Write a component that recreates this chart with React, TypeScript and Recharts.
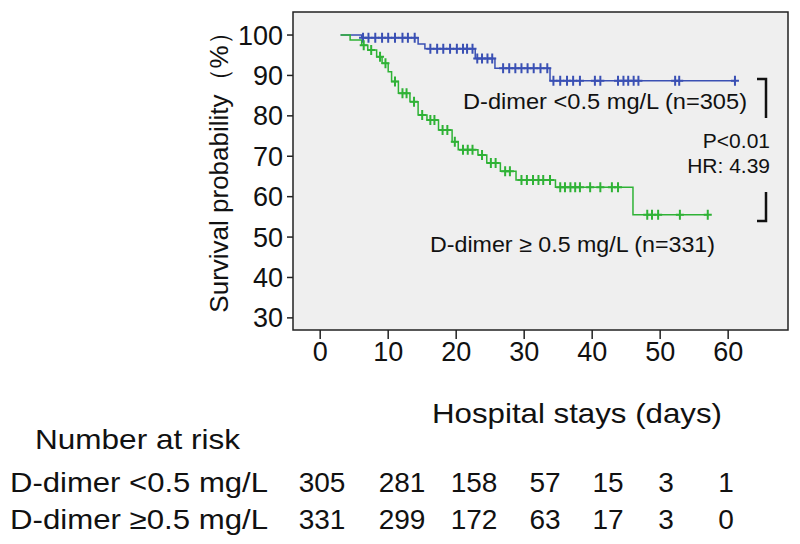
import React from 'react'
import { ComposedChart, Line, XAxis, YAxis, ReferenceArea } from 'recharts'

// D-dimer < 0.5 mg/L (blue): day, survival %, censored flag
const lowDays = [3, 6.1, 6.3, 7.1, 8.1, 9.1, 10, 11, 12.1, 12.9, 13.9, 14.4, 15.4, 16.2, 17.2, 18.1, 19.1, 20.1, 21, 21.6, 22.4, 22.8, 23.1, 23.8, 24.6, 25.3, 25.7, 26.9, 27.8, 28.7, 29.6, 30.5, 31.4, 32.4, 33.4, 33.8, 34.3, 35.3, 36.3, 37.2, 38.2, 40.4, 41.2, 43.8, 44.6, 45.3, 46.1, 46.8, 52.2, 52.8, 61]
const lowSurv = [100, 99.3, 99.3, 99.3, 99.3, 99.3, 99.3, 99.3, 99.3, 99.3, 99.3, 97.8, 96.6, 96.6, 96.6, 96.6, 96.6, 96.6, 96.6, 96.6, 96.6, 94.2, 94.2, 94.2, 94.2, 94.2, 91.8, 91.8, 91.8, 91.8, 91.8, 91.8, 91.8, 91.8, 91.8, 88.7, 88.7, 88.7, 88.7, 88.7, 88.7, 88.7, 88.7, 88.7, 88.7, 88.7, 88.7, 88.7, 88.7, 88.7, 88.7]
const lowCens = [0, 0, 1, 1, 1, 1, 1, 1, 1, 1, 1, 0, 0, 1, 1, 1, 1, 1, 1, 1, 1, 0, 1, 1, 1, 1, 0, 1, 1, 1, 1, 1, 1, 1, 1, 0, 1, 1, 1, 1, 1, 1, 1, 1, 1, 1, 1, 1, 1, 1, 1]

// D-dimer >= 0.5 mg/L (green)
const highDays = [3, 4.4, 6.1, 6.4, 7, 7.5, 8.3, 8.8, 9.1, 9.6, 10, 10.5, 11, 11.5, 12.1, 12.7, 13.2, 13.8, 14.4, 15, 15.7, 16.2, 16.8, 17.4, 18, 18.7, 19.4, 19.8, 20.3, 21, 21.7, 22.4, 23.2, 23.8, 24.5, 25.1, 25.8, 26.5, 27.2, 27.9, 28.8, 29.6, 30.4, 31.3, 32.1, 32.8, 33.8, 34.6, 35.3, 36, 36.8, 37.5, 38.2, 39.7, 41.2, 42.9, 43.8, 46, 48.1, 48.8, 49.7, 52.9, 57]
const highSurv = [100, 98.8, 97.5, 97.5, 96.3, 96.3, 94.6, 94.6, 93, 93, 90.9, 88.5, 88.5, 85.6, 85.6, 85.6, 83.5, 83.5, 80.2, 80.2, 79, 79, 79, 76.5, 76.5, 76.5, 73.6, 73.6, 71.6, 71.6, 71.6, 71.6, 70.3, 70.3, 68.3, 68.3, 68.3, 66.3, 66.3, 66.3, 64.1, 64.1, 64.1, 64.1, 64.1, 64.1, 64.1, 62.3, 62.3, 62.3, 62.3, 62.3, 62.3, 62.3, 62.3, 62.3, 62.3, 55.5, 55.5, 55.5, 55.5, 55.5, 55.5]
const highCens = [0, 0, 0, 1, 0, 1, 0, 1, 0, 1, 0, 0, 1, 0, 1, 1, 0, 1, 0, 1, 0, 1, 1, 0, 1, 1, 0, 1, 0, 1, 1, 1, 0, 1, 0, 1, 1, 0, 1, 1, 0, 1, 1, 1, 1, 1, 1, 0, 1, 1, 1, 1, 1, 1, 1, 1, 1, 0, 1, 1, 1, 1, 1]

const xTicks = [0, 10, 20, 30, 40, 50, 60]
const yTicks = [30, 40, 50, 60, 70, 80, 90, 100]

const riskLow = [305, 281, 158, 57, 15, 3, 1]
const riskHigh = [331, 299, 172, 63, 17, 3, 0]
const riskCols = [322, 402, 474, 545, 608, 666, 726]

const BLUE = '#3a50b4'
const GREEN = '#2fb236'

const toRows = (days: number[], surv: number[], cens: number[]) =>
  days.map((t, i) => ({ t, s: surv[i], c: cens[i] }))

const lowData = toRows(lowDays, lowSurv, lowCens)
const highData = toRows(highDays, highSurv, highCens)

function censorDot(color: string) {
  return (props: any) => {
    const { cx, cy, payload, index } = props
    if (!payload.c) return <g key={`d-${index}`} />
    return (
      <path
        key={`d-${index}`}
        d={`M${cx},${cy - 5}V${cy + 5}M${cx - 4},${cy}H${cx + 4}`}
        stroke={color}
        strokeWidth={2}
        fill="none"
      />
    )
  }
}

export default function App() {
  const txt = { fontFamily: '"Liberation Sans", Arial, sans-serif', fill: '#111' }
  return (
    <div style={{ position: 'absolute', left: 0, top: 0, width: 800, height: 544, background: '#fff', fontFamily: '"Liberation Sans", Arial, sans-serif' }}>
      <ComposedChart width={800} height={544} margin={{ top: 12, right: 12, left: 203, bottom: 174 }}>
        <ReferenceArea x1={-4} x2={68.8} y1={27} y2={105.7} fill="#efefef" fillOpacity={1} stroke="#222" strokeWidth={1.5} />
        <XAxis
          type="number"
          dataKey="t"
          domain={[-4, 68.8]}
          allowDataOverflow
          ticks={xTicks}
          height={40}
          axisLine={false}
          tickLine={{ stroke: '#222', strokeWidth: 1.5 }}
          tickSize={9}
          tickMargin={3}
          tick={{ fontSize: 27, fill: '#111' }}
        />
        <YAxis
          type="number"
          domain={[27, 105.7]}
          allowDataOverflow
          ticks={yTicks}
          width={90}
          axisLine={false}
          tickLine={{ stroke: '#222', strokeWidth: 1.5 }}
          tickSize={6}
          tickMargin={4}
          tick={{ fontSize: 27, fill: '#111' }}
        />
        <Line data={lowData} dataKey="s" type="stepAfter" stroke={BLUE} strokeWidth={1.5} dot={censorDot(BLUE)} activeDot={false} isAnimationActive={false} />
        <Line data={highData} dataKey="s" type="stepAfter" stroke={GREEN} strokeWidth={1.5} dot={censorDot(GREEN)} activeDot={false} isAnimationActive={false} />
      </ComposedChart>
      <svg width={800} height={544} style={{ position: 'absolute', left: 0, top: 0, pointerEvents: 'none' }}>
        <text x={228} y={166} transform="rotate(-90 228 166)" textAnchor="middle" fontSize={26} style={txt}>Survival probability（%）</text>
        <text x={463} y={109} fontSize={22} textLength={284} lengthAdjust="spacingAndGlyphs" style={txt}>D-dimer &lt;0.5 mg/L (n=305)</text>
        <text x={430} y={252} fontSize={22} textLength={285} lengthAdjust="spacingAndGlyphs" style={txt}>D-dimer ≥ 0.5 mg/L (n=331)</text>
        <text x={770} y={148} fontSize={21} textAnchor="end" style={txt}>P&lt;0.01</text>
        <text x={770} y={173} fontSize={21} textAnchor="end" style={txt}>HR: 4.39</text>
        <path d="M757,79H766V118" stroke="#111" strokeWidth={2.5} fill="none" />
        <path d="M766,192V221H757" stroke="#111" strokeWidth={2.5} fill="none" />
        <text x={432} y={423} fontSize={28} textLength={290} lengthAdjust="spacingAndGlyphs" style={txt}>Hospital stays (days)</text>
        <text x={35} y={449} fontSize={28} textLength={205} lengthAdjust="spacingAndGlyphs" style={txt}>Number at risk</text>
        <text x={10} y={492} fontSize={28} textLength={258} lengthAdjust="spacingAndGlyphs" style={txt}>D-dimer &lt;0.5 mg/L</text>
        <text x={10} y={529} fontSize={28} textLength={258} lengthAdjust="spacingAndGlyphs" style={txt}>D-dimer ≥0.5 mg/L</text>
        {riskLow.map((n, i) => (
          <text key={`l${i}`} x={riskCols[i]} y={492} fontSize={28} textAnchor="middle" style={txt}>{n}</text>
        ))}
        {riskHigh.map((n, i) => (
          <text key={`h${i}`} x={riskCols[i]} y={529} fontSize={28} textAnchor="middle" style={txt}>{n}</text>
        ))}
      </svg>
    </div>
  )
}
